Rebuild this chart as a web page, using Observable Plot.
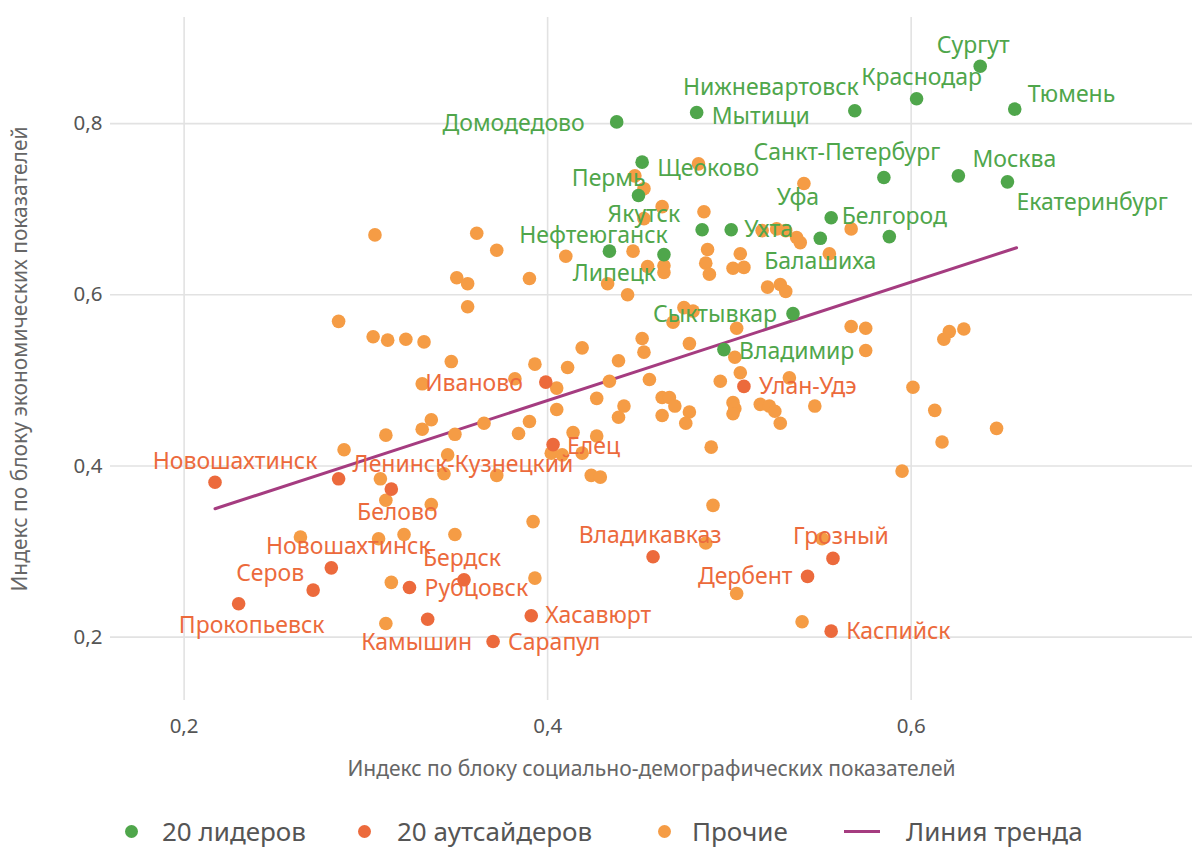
<!DOCTYPE html>
<html><head><meta charset="utf-8">
<script src="https://cdn.jsdelivr.net/npm/d3@7"></script>
<script src="https://cdn.jsdelivr.net/npm/@observablehq/plot@0.6"></script>
<style>
html,body{margin:0;background:#fff;font-family:"Noto Sans",sans-serif;overflow:hidden;}
#legend{position:relative;width:1192px;height:57px;font-size:26px;color:#555;}
.item{position:absolute;top:28px;height:26px;line-height:26px;white-space:nowrap;}
.sw{position:absolute;top:35px;width:13px;height:13px;border-radius:50%;}
.ln{position:absolute;top:40px;width:36px;height:3px;}
</style></head><body>
<div id="chart"></div>
<div id="legend"></div>
<script>
// ---- data ----
const leaderNames = ["Сургут","Краснодар","Тюмень","Нижневартовск","Мытищи","Домодедово","Щеоково","Пермь","Якутск","Ухта","Нефтеюганск","Липецк","Санкт-Петербург","Москва","Екатеринбург","Уфа","Белгород","Балашиха","Сыктывкар","Владимир"];
const leaderX = [0.638,0.603,0.657,0.569,0.482,0.438,0.452,0.450,0.485,0.501,0.434,0.464,0.585,0.626,0.653,0.556,0.588,0.550,0.535,0.497];
const leaderY = [0.867,0.829,0.817,0.815,0.813,0.802,0.755,0.716,0.676,0.676,0.651,0.647,0.737,0.739,0.732,0.690,0.668,0.666,0.578,0.536];

const outsiderNames = ["Новошахтинск","Ленинск-Кузнецкий","Белово","Новошахтинск","Серов","Прокопьевск","Рубцовск","Бердск","Камышин","Хасавюрт","Сарапул","Иваново","Елец","Владикавказ","Улан-Удэ","Дербент","Грозный","Каспийск"];
const outsiderX = [0.217,0.285,0.314,0.281,0.271,0.230,0.324,0.354,0.334,0.391,0.370,0.399,0.403,0.458,0.508,0.543,0.557,0.556];
const outsiderY = [0.381,0.385,0.373,0.281,0.255,0.239,0.258,0.267,0.221,0.225,0.195,0.498,0.425,0.294,0.493,0.271,0.292,0.207];

const otherX = [0.305,0.361,0.372,0.410,0.350,0.356,0.390,0.356,0.285,0.304,0.312,0.322,0.332,0.347,0.393,0.411,0.331,0.382,0.405,0.405,
0.336,0.331,0.311,0.288,0.349,0.365,0.384,0.390,0.414,0.427,0.345,0.343,0.308,0.372,0.402,0.408,0.419,0.424,0.429,0.311,
0.336,0.264,0.307,0.321,0.349,0.392,0.314,0.393,0.311,0.448,0.453,0.463,0.483,0.486,0.453,0.447,0.488,0.506,0.455,0.464,
0.464,0.487,0.489,0.502,0.508,0.433,0.444,0.518,0.526,0.531,0.537,0.539,0.521,0.528,0.531,0.541,0.567,0.555,0.475,0.480,
0.469,0.504,0.567,0.575,0.575,0.419,0.452,0.453,0.478,0.503,0.506,0.533,0.439,0.434,0.456,0.495,0.427,0.442,0.439,0.463,
0.467,0.470,0.463,0.478,0.476,0.502,0.503,0.502,0.517,0.522,0.525,0.528,0.547,0.490,0.491,0.487,0.504,0.540,0.551,0.621,
0.618,0.629,0.601,0.613,0.647,0.617,0.595];
const otherY = [0.670,0.672,0.652,0.645,0.620,0.613,0.619,0.586,0.569,0.551,0.547,0.548,0.545,0.522,0.519,0.515,0.496,0.502,0.491,0.466,
0.454,0.443,0.436,0.419,0.437,0.450,0.438,0.452,0.439,0.435,0.413,0.391,0.385,0.389,0.415,0.413,0.415,0.389,0.387,0.360,
0.355,0.317,0.315,0.320,0.320,0.335,0.264,0.269,0.216,0.739,0.724,0.703,0.753,0.697,0.689,0.651,0.653,0.648,0.633,0.634,
0.626,0.637,0.624,0.631,0.632,0.613,0.600,0.675,0.677,0.675,0.667,0.661,0.609,0.612,0.604,0.730,0.677,0.648,0.585,0.581,
0.568,0.561,0.563,0.561,0.535,0.538,0.549,0.533,0.543,0.527,0.509,0.503,0.523,0.499,0.501,0.499,0.479,0.470,0.457,0.480,
0.480,0.470,0.459,0.463,0.450,0.474,0.467,0.461,0.472,0.470,0.464,0.450,0.470,0.422,0.354,0.310,0.251,0.218,0.315,0.557,
0.548,0.560,0.492,0.465,0.444,0.428,0.394];

const trendX = [0.217, 0.658];
const trendY = [0.350, 0.655];

const xTicks = [0.2, 0.4, 0.6];
const yTicks = [0.2, 0.4, 0.6, 0.8];
const legendLabels = ["20 лидеров", "20 аутсайдеров", "Прочие", "Линия тренда"];
const xTitle = "Индекс по блоку социально-демографических показателей";
const yTitle = "Индекс по блоку экономических показателей";

// ---- styling / label placement ----
const GREEN = "#4fa64b", RED = "#ec6a3c", ORANGE = "#f59c45", PURPLE = "#a53c80";
const leaderPlace = [["middle",-7,-21],["middle",5,-21],["start",13,-14],["end",4,-23],["start",15,4],["end",-32,2],["start",15,6],["end",7,-17],["end",-22,-15],["start",13,0],["middle",-16,-16],["end",-8,19],["middle",-37,-25],["start",14,-16],["start",9,21],["end",-12,-20],["middle",5,-20],["middle",0,23],["end",-16,1],["start",15,2]];
const outsiderPlace = [["middle",20,-21],["start",14,-14],["middle",6,24],["middle",17,-21],["end",-9,-16],["middle",13,22],["start",15,1],["middle",-2,-21],["middle",-11,23],["start",14,0],["start",15,1],["end",-23,2],["start",14,2],["middle",-3,-21],["start",15,0],["end",-15,0],["middle",8,-22],["start",15,0]];

const others = otherX.map((x,i)=>({x, y: otherY[i]}));
const leaders = leaderNames.map((name,i)=>({name, x: leaderX[i], y: leaderY[i]}));
const outsiders = outsiderNames.map((name,i)=>({name, x: outsiderX[i], y: outsiderY[i]}));
const trend = trendX.map((x,i)=>({x, y: trendY[i]}));
const fmt = d => String(d).replace(".", ",");
const LABEL_SIZE = 23;

const labelMarks = [];
leaders.forEach((d,i)=>{ const [a,dx,dy]=leaderPlace[i];
  labelMarks.push(Plot.text([d],{x:"x",y:"y",text:"name",textAnchor:a,dx,dy,fill:GREEN,fontSize:LABEL_SIZE}));});
outsiders.forEach((d,i)=>{ const [a,dx,dy]=outsiderPlace[i];
  labelMarks.push(Plot.text([d],{x:"x",y:"y",text:"name",textAnchor:a,dx,dy,fill:RED,fontSize:LABEL_SIZE}));});

const chart = Plot.plot({
  width: 1192, height: 790,
  marginLeft: 110, marginRight: 0, marginTop: 17, marginBottom: 90,
  style: {fontFamily: "'Noto Sans', sans-serif", background: "#fff", color: "#555"},
  x: {domain: [0.1595, 0.7548]},
  y: {domain: [0.126, 0.924]},
  marks: [
    Plot.gridX(xTicks, {stroke: "#e2e2e2", strokeOpacity: 1, strokeWidth: 1.6}),
    Plot.gridY(yTicks, {stroke: "#e2e2e2", strokeOpacity: 1, strokeWidth: 1.6}),
    Plot.axisX({ticks: xTicks, tickSize: 0, tickPadding: 18, tickFormat: fmt, fontSize: 20.5, label: null, fill: "#555"}),
    Plot.axisY({ticks: yTicks, tickSize: 0, tickPadding: 8, tickFormat: fmt, fontSize: 20.5, label: null, fill: "#555"}),
    Plot.text([xTitle], {frameAnchor: "bottom", dy: 69, lineAnchor: "middle", textAnchor: "middle", fontSize: 21, fill: "#666"}),
    Plot.text([yTitle], {frameAnchor: "left", dx: -90, rotate: -90, lineAnchor: "middle", textAnchor: "middle", fontSize: 21, fill: "#666"}),
    Plot.line(trend, {x: "x", y: "y", stroke: PURPLE, strokeWidth: 3}),
    Plot.dot(others, {x: "x", y: "y", r: 6.8, fill: ORANGE}),
    Plot.dot(outsiders, {x: "x", y: "y", r: 6.8, fill: RED}),
    Plot.dot(leaders, {x: "x", y: "y", r: 6.8, fill: GREEN}),
    ...labelMarks
  ]
});
document.getElementById("chart").appendChild(chart);
chart.style.display = "block";

// ---- legend ----
const legend = document.getElementById("legend");
const items = [
  {label: legendLabels[0], color: GREEN, kind: "dot", sx: 131, tx: 162},
  {label: legendLabels[1], color: RED, kind: "dot", sx: 364, tx: 397},
  {label: legendLabels[2], color: ORANGE, kind: "dot", sx: 664, tx: 692},
  {label: legendLabels[3], color: PURPLE, kind: "line", sx: 862, tx: 906}
];
items.forEach(it => {
  const s = document.createElement("div");
  if (it.kind === "dot") { s.className = "sw"; s.style.left = (it.sx - 6.5) + "px"; }
  else { s.className = "ln"; s.style.left = (it.sx - 18) + "px"; }
  s.style.background = it.color;
  legend.appendChild(s);
  const t = document.createElement("div");
  t.className = "item"; t.style.left = it.tx + "px"; t.textContent = it.label;
  legend.appendChild(t);
});
</script>
</body></html>
